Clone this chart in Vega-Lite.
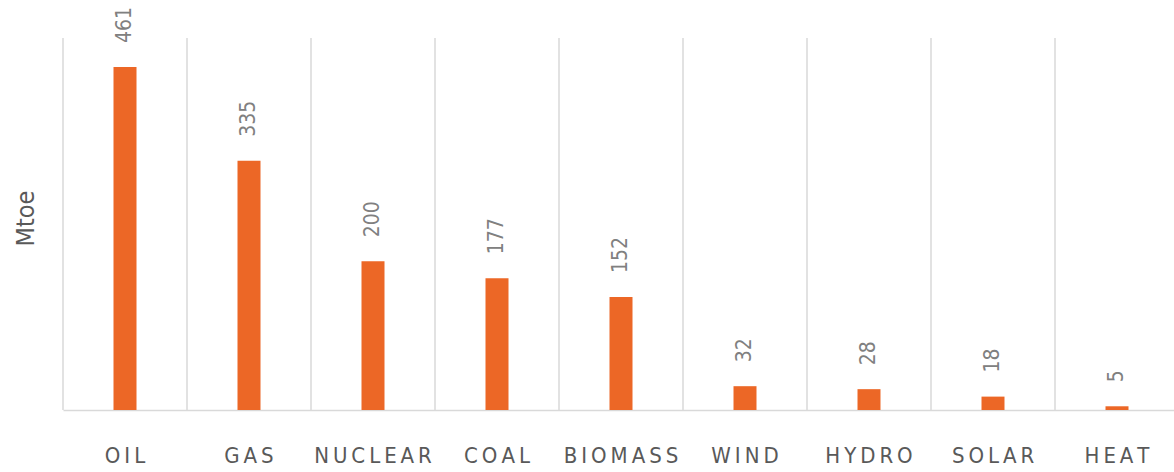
{
  "$schema": "https://vega.github.io/schema/vega-lite/v6.json",
  "width": 1116,
  "height": 372,
  "autosize": {"type": "none"},
  "padding": {"left": 63, "top": 38, "right": 0, "bottom": 62},
  "background": "white",
  "config": {
    "view": {"stroke": null},
    "font": "Liberation Sans Narrow, DejaVu Sans Condensed, Open Sans"
  },
  "data": {
    "values": [
      {"source": "OIL", "mtoe": 461},
      {"source": "GAS", "mtoe": 335},
      {"source": "NUCLEAR", "mtoe": 200},
      {"source": "COAL", "mtoe": 177},
      {"source": "BIOMASS", "mtoe": 152},
      {"source": "WIND", "mtoe": 32},
      {"source": "HYDRO", "mtoe": 28},
      {"source": "SOLAR", "mtoe": 18},
      {"source": "HEAT", "mtoe": 5}
    ]
  },
  "encoding": {
    "x": {
      "field": "source",
      "type": "nominal",
      "sort": null,
      "scale": {"paddingInner": 0, "paddingOuter": 0},
      "axis": {
        "title": null,
        "labelAngle": 0,
        "ticks": false,
        "domainColor": "#d9d9d9",
        "domainWidth": 1.5,
        "labelPadding": 35,
        "labelFontSize": 22,
        "labelColor": "#595959",
        "labelFont": "Liberation Sans Narrow, DejaVu Sans Condensed, Open Sans",
        "labelExpr": "join(split(datum.label, ''), '\u2009')"
      }
    },
    "y": {
      "field": "mtoe",
      "type": "quantitative",
      "scale": {"domain": [0, 500]},
      "axis": {
        "title": "Mtoe",
        "labels": false,
        "ticks": false,
        "domain": false,
        "grid": false,
        "titleFontSize": 25,
        "titleFontWeight": "normal",
        "titleColor": "#595959",
        "titlePadding": 25,
        "titleY": 180,
        "titleFont": "Liberation Sans Narrow, DejaVu Sans Condensed, Open Sans"
      }
    }
  },
  "layer": [
    {
      "mark": {"type": "rule", "color": "#d9d9d9", "strokeWidth": 1.5},
      "encoding": {
        "x": {"field": "source", "type": "nominal", "sort": null, "bandPosition": 0},
        "y": null
      }
    },
    {
      "mark": {"type": "bar", "color": "#ec6726", "size": 23}
    },
    {
      "mark": {
        "type": "text",
        "angle": 270,
        "align": "left",
        "baseline": "middle",
        "dx": 24,
        "fontSize": 21,
        "color": "#808080"
      },
      "encoding": {"text": {"field": "mtoe", "type": "quantitative"}}
    }
  ]
}
